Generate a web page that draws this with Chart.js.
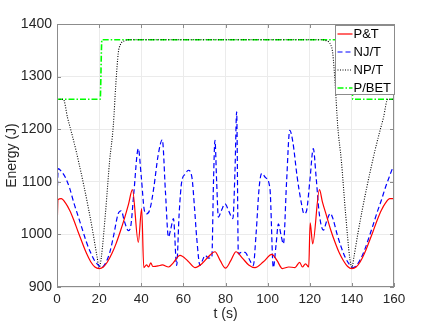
<!DOCTYPE html>
<html>
<head>
<meta charset="utf-8">
<script src="https://cdn.jsdelivr.net/npm/chart.js@4.4.1/dist/chart.umd.min.js"></script>
<style>
  html, body { margin: 0; padding: 0; background: #fff; }
  #wrap { width: 436px; height: 327px; }
</style>
</head>
<body>
<div id="wrap"><canvas id="energy"></canvas></div>
<script>
"use strict";

// values
const tPT = [0, 0.5, 2, 4, 6, 8, 10, 12, 14, 16, 18, 20, 22, 24, 26, 28, 30, 32, 34, 35.8,
  38.6, 40.2, 41.2, 42.5, 43.5, 44.5, 45.5, 48, 50, 53, 55, 58.4, 62, 65.5, 69, 72, 75, 77.5,
  80, 82.5, 85, 88, 91, 94, 98, 102, 104.5, 107, 110, 113, 115.2, 116.5, 118, 119.5, 120.2,
  121.4, 124.6, 126, 128, 130, 132, 134, 136, 138, 140, 142, 144, 146, 148, 150, 152, 154, 156, 158, 160];
const ePT = [1003, 1066, 1068, 1060, 1046, 1027, 1005, 984, 964, 948, 938, 935, 938, 948, 963, 982, 1005, 1030, 1058, 1085,
  985, 1049, 937, 942, 938, 946, 939, 940, 942, 938, 945, 960, 950, 937, 945, 958, 967, 950,
  936, 950, 967, 955, 942, 937, 948, 962, 950, 935, 938, 937, 947, 938, 944, 938, 1022,
  982, 1085, 1062, 1035, 1008, 985, 965, 950, 939, 935, 938, 948, 964, 984, 1005, 1027, 1046, 1060, 1068, 1068];

const tNJ = [0, 0.6, 2, 4, 6, 8, 10, 12, 14, 16, 18, 20, 21.2, 23, 25, 27, 29, 30.5, 32, 33.9, 35, 36.5,
  38.6, 40, 41.5, 42.6, 44.2, 46, 48, 50, 51.5, 52.9, 54, 55.3, 56.8, 58, 59.2, 61, 62.3, 64, 65.3,
  66.3, 67.9, 69, 70.3, 72, 73.5, 74.3, 75, 75.8, 76.6, 78, 79.8, 81.5, 83.5, 84.5, 85.3, 86.1, 87.5,
  89.3, 91, 93.2, 94.5, 96, 97.2, 99, 101.1, 102.7, 104, 105.1, 106.3, 107.5, 109, 110.5, 112, 114,
  116, 117.3, 118.5, 120, 121.7, 123, 124.5, 126.5, 128, 129.8, 131, 133, 135, 137, 139, 140.7, 142,
  144, 146, 148, 150, 152, 154, 156, 158, 159.5];
const eNJ = [1062, 1125, 1120, 1108, 1088, 1060, 1035, 1010, 985, 965, 949, 940, 937, 945, 965, 1000, 1039, 1045, 1025, 1007, 1015, 1080,
  1163, 1110, 1045, 1039, 1049, 1090, 1150, 1180, 1080, 995, 1010, 1030, 941, 1040, 1100, 1115, 1122, 1110, 1050,
  995, 941, 950, 960, 955, 956, 1100, 1179, 1100, 1033, 1045, 1058, 1045, 1030, 1120, 1233, 963, 966,
  966, 955, 941, 1000, 1090, 1116, 1108, 1087, 937, 980, 1020, 1000, 982, 1100, 1198, 1175, 1110,
  1060, 1039, 1045, 1100, 1163, 1110, 1040, 1008, 1025, 1040, 1030, 1000, 975, 955, 942, 937, 940,
  952, 970, 993, 1017, 1042, 1065, 1090, 1112, 1128];

const tNP = [0, 3, 5, 7, 9, 11, 13, 15, 17, 19, 20, 21, 23, 25, 26.7, 28, 29.1, 30, 32, 35,
  125, 128, 130, 130.9, 132, 133.3, 135, 137, 139, 140, 141, 143, 145, 147, 149, 151, 153, 155, 157, 160];
const eNP = [1257, 1257, 1222, 1192, 1160, 1125, 1088, 1048, 1005, 958, 937, 955, 1040, 1140, 1205, 1290, 1345, 1360, 1368, 1370,
  1370, 1368, 1360, 1345, 1290, 1205, 1140, 1040, 955, 937, 958, 1005, 1048, 1088, 1125, 1160, 1192, 1222, 1257, 1257];

const tBET = [0, 20.5, 21.3, 139.8, 140.4, 160];
const eBET = [1257, 1257, 1370, 1370, 1257, 1257];

const seriesNames = ["P&T", "NJ/T", "NP/T", "P/BET"];
const xTicks = [0, 20, 40, 60, 80, 100, 120, 140, 160];
const yTicks = [900, 1000, 1100, 1200, 1300, 1400];

function pts(xs, ys) {
  return xs.map((x, i) => ({x: x, y: ys[i]}));
}

const FONT = "'Liberation Sans', Arial, sans-serif";
const frameColor = "#8c8c8c";

// box, inward ticks and the in-plot legend, the way the original figure has them
const framePlugin = {
  id: "frame",
  afterDraw(chart) {
    const ctx = chart.ctx;
    const a = chart.chartArea;
    const xs = chart.scales.x, ys = chart.scales.y;
    ctx.save();
    ctx.strokeStyle = frameColor;
    ctx.lineWidth = 1;
    ctx.setLineDash([]);
    ctx.strokeRect(a.left + 0.5, a.top + 0.5, a.right - a.left - 1, a.bottom - a.top - 1);
    ctx.beginPath();
    xTicks.forEach(v => {
      const px = Math.round(xs.getPixelForValue(v)) + 0.5;
      ctx.moveTo(px, a.bottom); ctx.lineTo(px, a.bottom - 4);
      ctx.moveTo(px, a.top); ctx.lineTo(px, a.top + 4);
    });
    yTicks.forEach(v => {
      const py = Math.round(ys.getPixelForValue(v)) + 0.5;
      ctx.moveTo(a.left, py); ctx.lineTo(a.left + 4, py);
      ctx.moveTo(a.right, py); ctx.lineTo(a.right - 4, py);
    });
    ctx.stroke();

    // legend
    const bx = 335.5, by = 25.5, bw = 59, bh = 69;
    ctx.fillStyle = "#fff";
    ctx.fillRect(bx, by, bw, bh);
    ctx.strokeStyle = frameColor;
    ctx.strokeRect(bx, by, bw, bh);
    ctx.font = "13px " + FONT;
    ctx.textBaseline = "middle";
    chart.data.datasets.forEach((ds, i) => {
      const yy = by + 8.5 + i * 18;
      ctx.strokeStyle = ds.borderColor;
      ctx.lineWidth = ds.borderWidth;
      ctx.setLineDash(ds.borderDash || []);
      ctx.beginPath();
      ctx.moveTo(bx + 2, yy); ctx.lineTo(bx + 17, yy);
      ctx.stroke();
      ctx.setLineDash([]);
      ctx.fillStyle = "#000";
      ctx.fillText(ds.label, bx + 18, yy + 0.5);
    });
    ctx.restore();
  }
};

new Chart(document.getElementById("energy"), {
  type: "line",
  data: {
    datasets: [
      {label: seriesNames[0], data: pts(tPT, ePT), borderColor: "#ff0000", borderWidth: 1.2},
      {label: seriesNames[1], data: pts(tNJ, eNJ), borderColor: "#0000ff", borderWidth: 1.2, borderDash: [5, 3]},
      {label: seriesNames[2], data: pts(tNP, eNP), borderColor: "#000000", borderWidth: 1.1, borderDash: [1, 1.5]},
      {label: seriesNames[3], data: pts(tBET, eBET), borderColor: "#00ff00", borderWidth: 1.6, borderDash: [6, 2, 1.5, 2]},
    ],
  },
  options: {
    responsive: true,
    maintainAspectRatio: false,
    animation: false,
    layout: {padding: {left: 0, top: 24, right: 42, bottom: 0}},
    elements: {
      point: {radius: 0},
      line: {cubicInterpolationMode: "monotone", fill: false},
    },
    plugins: {
      legend: {display: false},
      tooltip: {enabled: false},
    },
    scales: {
      x: {
        type: "linear",
        min: 0,
        max: 160,
        afterFit(s) { s.height = 40; },
        afterBuildTicks(s) { s.ticks = xTicks.map(v => ({value: v})); },
        grid: {color: "#ebebeb", drawTicks: false},
        border: {display: false},
        ticks: {color: "#262626", font: {family: FONT, size: 13.5}, padding: 4, callback: v => String(v)},
        title: {display: true, text: "t (s)", color: "#262626", font: {family: FONT, size: 14}, padding: {top: 8}},
      },
      y: {
        min: 900,
        max: 1400,
        afterFit(s) { s.width = 57; },
        afterBuildTicks(s) { s.ticks = yTicks.map(v => ({value: v})); },
        grid: {color: "#ebebeb", drawTicks: false},
        border: {display: false},
        ticks: {color: "#262626", font: {family: FONT, size: 14}, padding: 5, callback: v => String(v)},
        title: {display: true, text: "Energy (J)", color: "#262626", font: {family: FONT, size: 14}, padding: {bottom: 0}},
      },
    },
  },
  plugins: [framePlugin],
});
</script>
</body>
</html>
